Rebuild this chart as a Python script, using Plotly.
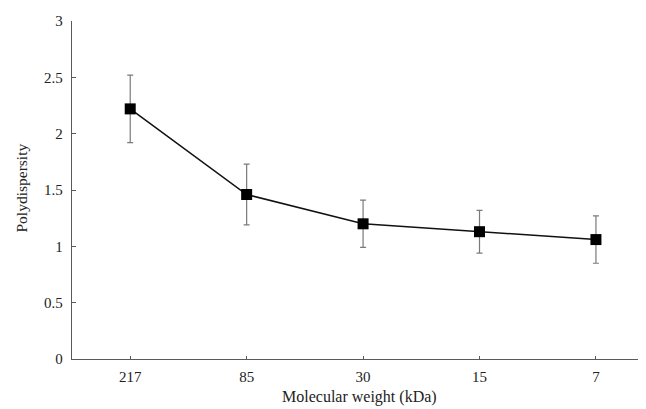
import plotly.graph_objects as go

categories = ["217", "85", "30", "15", "7"]
polydispersity = [2.22, 1.46, 1.20, 1.13, 1.06]
error = [0.30, 0.27, 0.21, 0.19, 0.21]
y_ticks = [0, 0.5, 1, 1.5, 2, 2.5, 3]
y_tick_labels = ["0", "0.5", "1", "1.5", "2", "2.5", "3"]
x_title = "Molecular weight (kDa)"
y_title = "Polydispersity"

font_family = "Liberation Serif"
axis_color = "#5a5a5a"
text_color = "#222222"

# The page has an 8px body margin, so the figure is sized to fill the rest of the window.
W, H = 638, 401
L, R, T, B = 64, 0, 13, 50
plot_w = W - L - R
plot_h = H - T - B

fig = go.Figure()
fig.add_trace(go.Scatter(
    x=list(range(len(categories))),
    y=polydispersity,
    mode="lines+markers",
    line=dict(color="#111111", width=1.5),
    marker=dict(symbol="square", size=11, color="#000000"),
    error_y=dict(type="data", array=error, visible=True, color="#7a7a7a", thickness=1.2, width=3),
    showlegend=False,
))

fig.update_layout(
    width=W, height=H,
    margin=dict(l=L, r=R, t=T, b=B, pad=0),
    paper_bgcolor="white", plot_bgcolor="white",
    font=dict(family=font_family, size=15, color=text_color),
)
fig.update_xaxes(
    tickmode="array", tickvals=list(range(len(categories))), ticktext=categories,
    range=[-0.5, 4.43],
    showline=True, linecolor=axis_color, linewidth=1.3,
    ticks="inside", ticklen=3, tickcolor=axis_color, tickwidth=1,
    showgrid=False, zeroline=False,
    tickfont=dict(family=font_family, size=15, color=text_color),
    ticklabelstandoff=4,
    automargin=False,
)
fig.update_yaxes(
    tickmode="array", tickvals=y_ticks, ticktext=y_tick_labels,
    range=[0, 3],
    showline=True, linecolor=axis_color, linewidth=1.3,
    ticks="inside", ticklen=4, tickcolor=axis_color, tickwidth=1,
    showgrid=False, zeroline=False,
    tickfont=dict(family=font_family, size=15, color=text_color),
    ticklabelstandoff=5,
    automargin=False,
)

plot_bottom = T + plot_h  # figure px of the x axis line
fig.add_annotation(
    text=x_title, xref="paper", yref="paper",
    x=0.5, y=(plot_bottom - 400) / plot_h, xanchor="center", yanchor="bottom",
    showarrow=False, font=dict(family=font_family, size=16, color=text_color),
)
fig.add_annotation(
    text=y_title, xref="paper", yref="paper",
    x=(12.5 - L) / plot_w, y=(plot_bottom - 180) / plot_h, xanchor="center", yanchor="middle",
    textangle=-90, showarrow=False, font=dict(family=font_family, size=15.5, color=text_color),
)

fig.write_html("out.html")
